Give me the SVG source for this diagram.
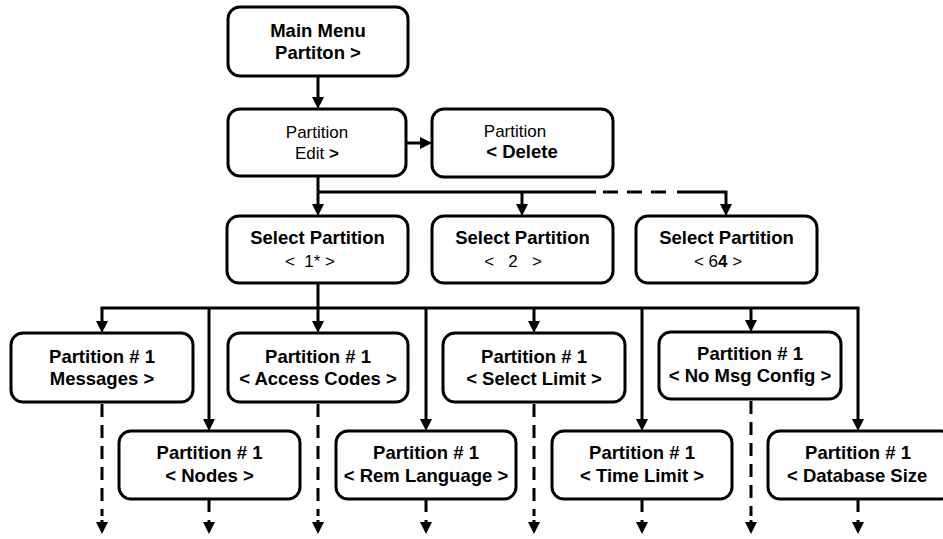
<svg xmlns="http://www.w3.org/2000/svg" xmlns:xlink="http://www.w3.org/1999/xlink" width="943" height="539" viewBox="0 0 943 539">
<style>
.box{fill:#fff;stroke:#000;stroke-width:3}
.b{font-family:"Liberation Sans",Arial,sans-serif;font-weight:bold;font-size:18.5px;fill:#000;text-anchor:middle}
.r{font-family:"Liberation Sans",Arial,sans-serif;font-size:17px;fill:#000;text-anchor:middle}
.ln{stroke:#000;stroke-width:3;fill:none}
.dl{stroke:#000;stroke-width:3;fill:none;stroke-dasharray:13 8}
.pre{white-space:pre}
</style>
<defs>
<path id="ad" d="M-6,-12 L6,-12 L0,0 z" fill="#000"/>
<path id="ar" d="M-12,-6 L-12,6 L0,0 z" fill="#000"/>
</defs>
<rect width="943" height="539" fill="#fff"/>

<g id="connectors">
<line class="ln" x1="318" y1="76" x2="318" y2="98"/><use xlink:href="#ad" x="318" y="109"/>
<line class="ln" x1="406" y1="143" x2="421" y2="143"/><use xlink:href="#ar" x="432" y="143"/>
<line class="ln" x1="318" y1="176" x2="318" y2="205"/><use xlink:href="#ad" x="318" y="216"/>
<line class="ln" x1="318" y1="192" x2="596" y2="192"/>
<line class="ln" x1="603" y1="192" x2="670" y2="192" style="stroke-dasharray:15 9"/>
<polyline class="ln" points="677,192 726,192 726,205"/><use xlink:href="#ad" x="726" y="216"/>
<line class="ln" x1="522" y1="192" x2="522" y2="205"/><use xlink:href="#ad" x="522" y="216"/>
<line class="ln" x1="318" y1="283" x2="318" y2="308"/>
<line class="ln" x1="100.5" y1="308" x2="859.5" y2="308"/>
<line class="ln" x1="102" y1="308" x2="102" y2="322"/><use xlink:href="#ad" x="102" y="333"/>
<line class="ln" x1="318" y1="308" x2="318" y2="322"/><use xlink:href="#ad" x="318" y="333"/>
<line class="ln" x1="534" y1="308" x2="534" y2="322"/><use xlink:href="#ad" x="534" y="333"/>
<line class="ln" x1="751" y1="308" x2="751" y2="321"/><use xlink:href="#ad" x="751" y="332"/>
<line class="ln" x1="209" y1="308" x2="209" y2="420"/><use xlink:href="#ad" x="209" y="431"/>
<line class="ln" x1="426" y1="308" x2="426" y2="420"/><use xlink:href="#ad" x="426" y="431"/>
<line class="ln" x1="642" y1="308" x2="642" y2="420"/><use xlink:href="#ad" x="642" y="431"/>
<line class="ln" x1="858" y1="308" x2="858" y2="420"/><use xlink:href="#ad" x="858" y="431"/>
<line class="dl" x1="102" y1="404" x2="102" y2="516"/><use xlink:href="#ad" x="102" y="534"/><line class="ln" x1="102" y1="520" x2="102" y2="524"/>
<line class="dl" x1="318" y1="404" x2="318" y2="516"/><use xlink:href="#ad" x="318" y="534"/><line class="ln" x1="318" y1="520" x2="318" y2="524"/>
<line class="dl" x1="534" y1="404" x2="534" y2="516"/><use xlink:href="#ad" x="534" y="534"/><line class="ln" x1="534" y1="520" x2="534" y2="524"/>
<line class="dl" x1="751" y1="401" x2="751" y2="516"/><use xlink:href="#ad" x="751" y="534"/><line class="ln" x1="751" y1="520" x2="751" y2="524"/>
<line class="ln" x1="209" y1="499" x2="209" y2="512"/><line class="ln" x1="209" y1="520" x2="209" y2="524"/><use xlink:href="#ad" x="209" y="534"/>
<line class="ln" x1="426" y1="499" x2="426" y2="512"/><line class="ln" x1="426" y1="520" x2="426" y2="524"/><use xlink:href="#ad" x="426" y="534"/>
<line class="ln" x1="642" y1="499" x2="642" y2="512"/><line class="ln" x1="642" y1="520" x2="642" y2="524"/><use xlink:href="#ad" x="642" y="534"/>
<line class="ln" x1="858" y1="499" x2="858" y2="512"/><line class="ln" x1="858" y1="520" x2="858" y2="524"/><use xlink:href="#ad" x="858" y="534"/>
</g>

<g id="main-menu"><rect class="box" x="228" y="7" width="180" height="69" rx="12"/>
<text class="b" x="318" y="37">Main Menu</text><text class="b" x="318" y="59">Partiton &gt;</text></g>

<g id="partition-edit"><rect class="box" x="228" y="109" width="178" height="67" rx="12"/>
<text class="r" x="317" y="138">Partition</text><text class="r" x="317" y="159">Edit <tspan font-weight="bold">&gt;</tspan></text></g>

<g id="partition-delete"><rect class="box" x="432" y="109" width="181" height="68" rx="12"/>
<text class="r" x="515" y="137">Partition</text><text class="b" x="522" y="158">&lt; Delete</text></g>

<g id="select-1"><rect class="box" x="227" y="216" width="181" height="67" rx="12"/>
<text class="b" x="317.5" y="244">Select Partition</text><text class="r pre" x="310" y="267">&lt;  1* &gt;</text></g>

<g id="select-2"><rect class="box" x="432" y="216" width="181" height="67" rx="12"/>
<text class="b" x="522.5" y="244">Select Partition</text><text class="r pre" x="513" y="267">&lt;   2   &gt;</text></g>

<g id="select-64"><rect class="box" x="636" y="216" width="181" height="67" rx="12"/>
<text class="b" x="726.5" y="244">Select Partition</text><text class="r pre" x="718" y="267">&lt; 6<tspan font-weight="bold">4</tspan> &gt;</text></g>

<g id="messages"><rect class="box" x="11" y="333" width="182" height="69" rx="12"/>
<text class="b" x="102" y="363">Partition # 1</text><text class="b" x="102" y="385">Messages &gt;</text></g>

<g id="access-codes"><rect class="box" x="228" y="333" width="180" height="69" rx="12"/>
<text class="b" x="318" y="363">Partition # 1</text><text class="b" x="318" y="385">&lt; Access Codes &gt;</text></g>

<g id="select-limit"><rect class="box" x="443" y="333" width="182" height="69" rx="12"/>
<text class="b" x="534" y="363">Partition # 1</text><text class="b" x="534" y="385">&lt; Select Limit &gt;</text></g>

<g id="no-msg-config"><rect class="box" x="659" y="332" width="182" height="67" rx="12"/>
<text class="b" x="750" y="360">Partition # 1</text><text class="b" x="750" y="382">&lt; No Msg Config &gt;</text></g>

<g id="nodes"><rect class="box" x="119" y="431" width="181" height="68" rx="12"/>
<text class="b" x="209.5" y="459">Partition # 1</text><text class="b" x="209.5" y="482">&lt; Nodes &gt;</text></g>

<g id="rem-language"><rect class="box" x="336" y="431" width="180" height="68" rx="12"/>
<text class="b" x="426" y="459">Partition # 1</text><text class="b" x="426" y="482">&lt; Rem Language &gt;</text></g>

<g id="time-limit"><rect class="box" x="552" y="431" width="180" height="68" rx="12"/>
<text class="b" x="642" y="459">Partition # 1</text><text class="b" x="642" y="482">&lt; Time Limit &gt;</text></g>

<g id="database-size"><rect class="box" x="768" y="431" width="185" height="68" rx="12"/>
<text class="b" x="858" y="459">Partition # 1</text><text class="b" x="787" y="482" style="text-anchor:start">&lt; Database Size</text></g>
</svg>
